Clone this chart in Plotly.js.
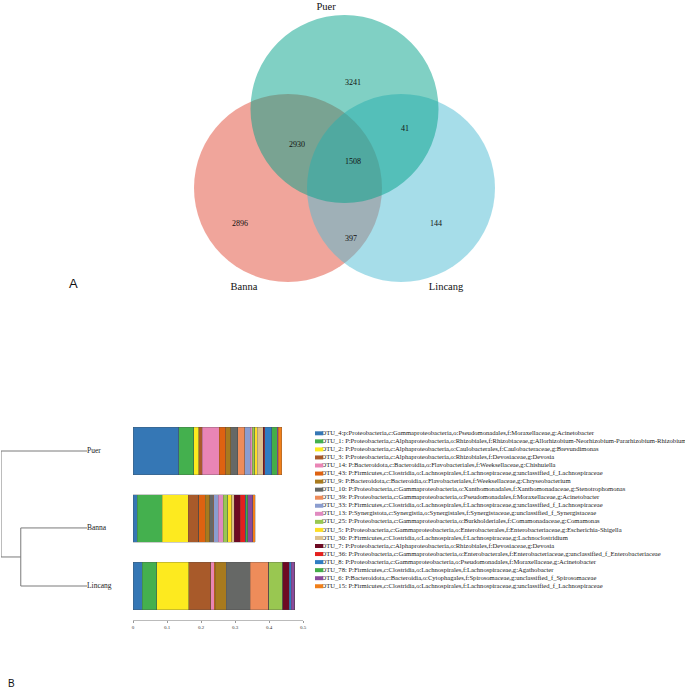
<!DOCTYPE html>
<html><head><meta charset="utf-8">
<script src="https://cdn.plot.ly/plotly-3.0.1.min.js"></script>
<style>html,body{margin:0;padding:0;background:#fff}#chart{width:685px;height:689px}</style>
</head><body><div id="chart"></div>
<script>
// ---------- Venn data ----------
const vennSets = ["Banna", "Lincang", "Puer"];
const vennColors = ["rgb(225,75,55)", "rgb(77,187,211)", "rgb(1,161,137)"];
const vennRegions = ["Puer only", "Puer&Lincang", "Puer&Banna", "All", "Banna only", "Banna&Lincang", "Lincang only"];
const vennCounts = [3241, 41, 2930, 1508, 2896, 397, 144];

// ---------- Community bar data ----------
const samples = ["Puer", "Banna", "Lincang"];
const otuNames = [
 "OTU_4:p:Proteobacteria,c:Gammaproteobacteria,o:Pseudomonadales,f:Moraxellaceae,g:Acinetobacter",
 "OTU_1: P:Proteobacteria,c:Alphaproteobacteria,o:Rhizobiales,f:Rhizobiaceae,g:Allorhizobium-Neorhizobium-Pararhizobium-Rhizobium",
 "OTU_2: P:Proteobacteria,c:Alphaproteobacteria,o:Caulobacterales,f:Caulobacteraceae,g:Brevundimonas",
 "OTU_3: P:Proteobacteria,c:Alphaproteobacteria,o:Rhizobiales,f:Devosiaceae,g:Devosia",
 "OTU_14: P:Bacteroidota,c:Bacteroidia,o:Flavobacteriales,f:Weeksellaceae,g:Chishuiella",
 "OTU_43: P:Firmicutes,c:Clostridia,o:Lachnospirales,f:Lachnospiraceae,g:unclassified_f_Lachnospiraceae",
 "OTU_9: P:Bacteroidota,c:Bacteroidia,o:Flavobacteriales,f:Weeksellaceae,g:Chryseobacterium",
 "OTU_10: P:Proteobacteria,c:Gammaproteobacteria,o:Xanthomonadales,f:Xanthomonadaceae,g:Stenotrophomonas",
 "OTU_39: P:Proteobacteria,c:Gammaproteobacteria,o:Pseudomonadales,f:Moraxellaceae,g:Acinetobacter",
 "OTU_33: P:Firmicutes,c:Clostridia,o:Lachnospirales,f:Lachnospiraceae,g:unclassified_f_Lachnospiraceae",
 "OTU_13: P:Synergistota,c:Synergistia,o:Synergistales,f:Synergistaceae,g:unclassified_f_Synergistaceae",
 "OTU_25: P:Proteobacteria,c:Gammaproteobacteria,o:Burkholderiales,f:Comamonadaceae,g:Comamonas",
 "OTU_5: P:Proteobacteria,c:Gammaproteobacteria,o:Enterobacterales,f:Enterobacteriaceae,g:Escherichia-Shigella",
 "OTU_30: P:Firmicutes,c:Clostridia,o:Lachnospirales,f:Lachnospiraceae,g:Lachnoclostridium",
 "OTU_7: P:Proteobacteria,c:Alphaproteobacteria,o:Rhizobiales,f:Devosiaceae,g:Devosia",
 "OTU_36: P:Proteobacteria,c:Gammaproteobacteria,o:Enterobacterales,f:Enterobacteriaceae,g:unclassified_f_Enterobacteriaceae",
 "OTU_8: P:Proteobacteria,c:Gammaproteobacteria,o:Pseudomonadales,f:Moraxellaceae,g:Acinetobacter",
 "OTU_78: P:Firmicutes,c:Clostridia,o:Lachnospirales,f:Lachnospiraceae,g:Agathobacter",
 "OTU_6: P:Bacteroidota,c:Bacteroidia,o:Cytophagales,f:Spirosomaceae,g:unclassified_f_Spirosomaceae",
 "OTU_15: P:Firmicutes,c:Clostridia,o:Lachnospirales,f:Lachnospiraceae,g:unclassified_f_Lachnospiraceae"
];
const otuColors = ["#3577b5","#44b04e","#fdea1f","#a85a2a","#e985b5","#de6211","#a87a1e","#666866","#ee8c5a","#8b9dcf",
                   "#e08ac0","#99c751","#fdde25","#dcc08c","#6d0a23","#e4201e","#2f7dc3","#45ad49","#8b4a9c","#f07f1a"];
const puer    = [0.135,0.043,0.015,0.011,0.049,0.020,0.014,0.021,0.020,0.017,0.006,0.007,0.007,0.018,0.003,0.0015,0.021,0.016,0.003,0.010];
const banna   = [0.012,0.074,0.076,0.031,0.000,0.019,0.014,0.010,0.002,0.012,0.016,0.012,0.013,0.007,0.017,0.015,0.002,0.006,0.014,0.008];
const lincang = [0.027,0.043,0.094,0.064,0.011,0.003,0.032,0.071,0.054,0.000,0.000,0.042,0.000,0.000,0.018,0.000,0.006,0.000,0.010,0.000];
const xTicks = [0, 0.1, 0.2, 0.3, 0.4, 0.5];

// ---------- Dendrogram ----------
const leafPos = [0, 1.14, 2];        // Puer, Banna, Lincang
const mergeHeights = [0.77, 1.0];    // Banna+Lincang, then with Puer

const W = 685, H = 689;
const serif = "Liberation Serif, Times New Roman, serif";
const traces = [];
const shapes = [];
const annotations = [];

// Venn circle geometry (pixel axis)
const circ = [{cx:288, cy:188}, {cx:401, cy:188}, {cx:344.5, cy:109}];
const R = 94;
vennSets.forEach((s, i) => {
  shapes.push({type:"circle", xref:"x", yref:"y", x0:circ[i].cx-R, x1:circ[i].cx+R, y0:circ[i].cy-R, y1:circ[i].cy+R,
    fillcolor:vennColors[i], opacity:0.5, line:{width:0}, layer:"below"});
});
const regionPos = [[353,83],[405,129],[297,145],[353,162],[240,224],[351,239],[436,224]];
traces.push({type:"scatter", mode:"text", xaxis:"x", yaxis:"y", x:regionPos.map(p=>p[0]), y:regionPos.map(p=>p[1]),
  text:vennCounts.map(String), textfont:{family:serif, size:8, color:"#111"}, hoverinfo:"skip", showlegend:false});
const setLabelPos = [[244,287],[446,287],[326,7]];
traces.push({type:"scatter", mode:"text", xaxis:"x", yaxis:"y", x:setLabelPos.map(p=>p[0]), y:setLabelPos.map(p=>p[1]),
  text:vennSets, textfont:{family:serif, size:10.5, color:"#111"}, hoverinfo:"skip", showlegend:false});

// Stacked bars
otuNames.forEach((n, i) => {
  traces.push({type:"bar", orientation:"h", xaxis:"x2", yaxis:"y2", name:n,
    x:[puer[i], banna[i], lincang[i]], y:samples, width:0.7,
    marker:{color:otuColors[i], line:{color:"rgba(70,70,70,0.55)", width:0.5}}, showlegend:false, hoverinfo:"x+name"});
});

// Dendrogram lines
const hLeaf = 0;
const yBL = (leafPos[1] + leafPos[2]) / 2;
const dx = [], dy = [];
function seg(x0,y0,x1,y1){ dx.push(x0,x1,null); dy.push(y0,y1,null); }
seg(hLeaf, leafPos[1], mergeHeights[0], leafPos[1]);
seg(hLeaf, leafPos[2], mergeHeights[0], leafPos[2]);
seg(mergeHeights[0], leafPos[1], mergeHeights[0], leafPos[2]);
seg(mergeHeights[0], yBL, mergeHeights[1], yBL);
seg(hLeaf, leafPos[0], mergeHeights[1], leafPos[0]);
seg(mergeHeights[1], leafPos[0], mergeHeights[1], yBL);
traces.push({type:"scatter", mode:"lines", xaxis:"x3", yaxis:"y3", x:dx, y:dy,
  line:{color:"#7a7a7a", width:1}, hoverinfo:"skip", showlegend:false});
traces.push({type:"scatter", mode:"text", xaxis:"x3", yaxis:"y3", x:[0,0,0], y:leafPos, text:samples,
  textposition:"middle right", textfont:{family:serif, size:7.5, color:"#222"}, hoverinfo:"skip", showlegend:false, cliponaxis:false});

// Legend (pixel axis)
const legY0 = 433.3, legDy = 8.05;
otuNames.forEach((n, i) => {
  const yy = legY0 + i*legDy;
  shapes.push({type:"rect", xref:"x", yref:"y", x0:315, x1:323.3, y0:yy-2, y1:yy+2, fillcolor:otuColors[i], line:{width:0}});
});
traces.push({type:"scatter", mode:"text", xaxis:"x", yaxis:"y", x:otuNames.map(()=>321.5),
  y:otuNames.map((_, i)=>legY0 + i*legDy), text:otuNames, textposition:"middle right",
  textfont:{family:serif, size:6.6, color:"#222"}, hoverinfo:"skip", showlegend:false, cliponaxis:false});

annotations.push({xref:"paper", yref:"paper", x:73/W, y:1-283/H, text:"A", showarrow:false,
  font:{family:"Liberation Sans, Arial, sans-serif", size:13, color:"#111"}, xanchor:"center", yanchor:"middle"});
annotations.push({xref:"paper", yref:"paper", x:11/W, y:1-683/H, text:"B", showarrow:false,
  font:{family:"Liberation Sans, Arial, sans-serif", size:10, color:"#111"}, xanchor:"center", yanchor:"middle"});

// axis domains
const barTop = 417.25, barBot = 619.75;
const layout = {
  width:W, height:H, margin:{l:0,r:0,t:0,b:0}, paper_bgcolor:"#fff", plot_bgcolor:"rgba(0,0,0,0)",
  showlegend:false, barmode:"stack", bargap:0.3,
  xaxis:{domain:[0,1], range:[0,W], visible:false, fixedrange:true},
  yaxis:{domain:[0,1], range:[H,0], visible:false, fixedrange:true},
  xaxis2:{domain:[133/W, 303/W], range:[0,0.5], anchor:"y2", showgrid:false, zeroline:false,
    showline:true, linecolor:"#bbb", linewidth:1, ticks:"outside", ticklen:2, tickcolor:"#999",
    tickvals:xTicks, ticktext:xTicks.map(String), tickfont:{family:serif, size:5, color:"#333"}},
  yaxis2:{domain:[1-barBot/H, 1-barTop/H], type:"category", categoryorder:"array", categoryarray:samples,
    range:[2.5,-0.5], anchor:"x2", visible:false},
  xaxis3:{domain:[1/W, 87/W], range:[1.0, 0], anchor:"y3", visible:false},
  yaxis3:{domain:[1-barBot/H, 1-barTop/H], range:[2.5,-0.5], anchor:"x3", visible:false},
  shapes:shapes, annotations:annotations
};
Plotly.newPlot("chart", traces, layout, {displayModeBar:false, staticPlot:true});
</script>
</body></html>
